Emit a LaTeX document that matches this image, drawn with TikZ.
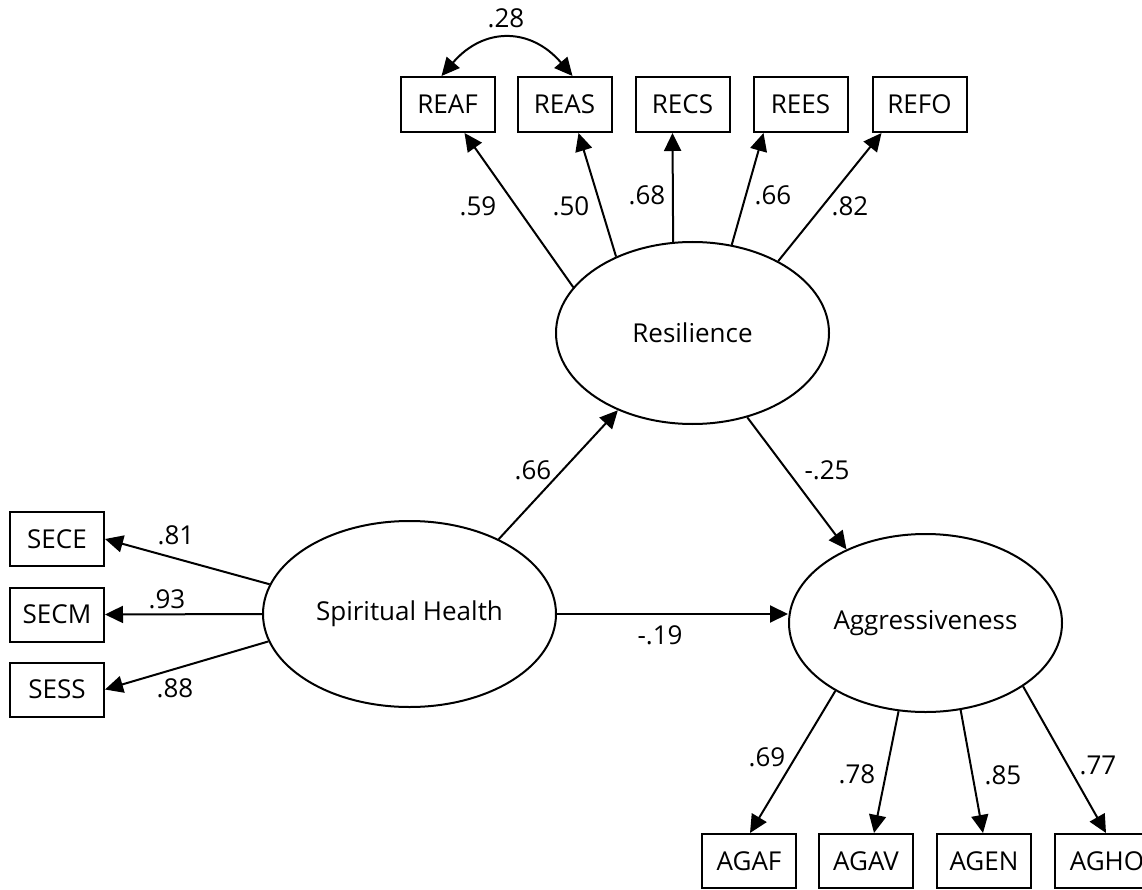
\documentclass[tikz,border=0pt]{standalone}
\usepackage{fontspec}
\setmainfont{Open Sans}
\usetikzlibrary{arrows.meta,shapes.geometric}
\begin{document}
\begin{tikzpicture}[x=1pt,y=-1pt,
  every node/.style={font=\fontsize{26}{30}\selectfont},
  obs/.style={draw, line width=2pt, minimum width=94pt, minimum height=55pt, inner sep=0pt},
  lat/.style={draw, ellipse, line width=2pt, inner sep=0pt},
  pth/.style={line width=2pt, -{Triangle[length=18pt,width=17pt]}},
  cov/.style={line width=2pt, {Triangle[length=18pt,width=17pt]}-{Triangle[length=18pt,width=17pt]}},
  lbl/.style={inner sep=0pt}]
\useasboundingbox (0,0) rectangle (1142,890);

% latent variables
\node[lat, minimum width=273pt, minimum height=182pt] (res) at (692.5,333) {Resilience};
\node[lat, minimum width=293pt, minimum height=186pt] (sp) at (409.5,614) {Spiritual Health};
\node[lat, minimum width=273pt, minimum height=178pt] (ag) at (925.5,623) {Aggressiveness};

% observed: resilience
\node[obs] (reaf) at (447.5,104.5) {REAF};
\node[obs] (reas) at (564.5,104.5) {REAS};
\node[obs] (recs) at (682.5,104.5) {RECS};
\node[obs] (rees) at (800.5,104.5) {REES};
\node[obs] (refo) at (919.5,104.5) {REFO};

% observed: spiritual health
\node[obs, minimum height=54pt] (sece) at (57,539) {SECE};
\node[obs, minimum height=54pt] (secm) at (57,614.5) {SECM};
\node[obs, minimum height=54pt] (sess) at (57,689.5) {SESS};

% observed: aggressiveness
\node[obs, minimum height=54pt] (agaf) at (749,861) {AGAF};
\node[obs, minimum height=54pt] (agav) at (866,861) {AGAV};
\node[obs, minimum height=54pt] (agen) at (984,861) {AGEN};
\node[obs, minimum height=54pt, minimum width=104pt] (agho) at (1107,861) {AGHO};

% loadings resilience
\draw[pth] (res.159.4) -- ([xshift=17pt]reaf.south);
\draw[pth] (res.135.2) -- ([xshift=14pt]reas.south);
\draw[pth] (res.102.1) -- ([xshift=-10pt]recs.south);
\draw[pth] (res.66.8) -- ([xshift=-37pt]rees.south);
\draw[pth] (res.40.4) -- ([xshift=-38pt]refo.south);

% covariance
\draw[cov] ([xshift=-6pt]reaf.north) .. controls +(42,-49) and +(-42,-49) .. ([xshift=8pt]reas.north);

% loadings spiritual health
\draw[pth] (sp.168.8) -- (sece.east);
\draw[pth] (sp.west) -- (secm.east);
\draw[pth] (sp.191.6) -- (sess.east);

% loadings aggressiveness
\draw[pth] (ag.217) -- ([xshift=1pt]agaf.north);
\draw[pth] (ag.253.8) -- ([xshift=8pt]agav.north);
\draw[pth] (ag.292.2) -- ([xshift=-1pt]agen.north);
\draw[pth] (ag.327.7) -- ([xshift=-1pt]agho.north);

% structural paths
\draw[pth] (sp.40) -- (res.226);
\draw[pth] (res.303.5) -- (ag.137.8);
\draw[pth] (sp.east) -- (sp.east -| ag.west);

% labels
\node[lbl] (l28) at (506,18) {.28};
\node[lbl] (l59) at (478,206) {.59};
\node[lbl] (l50) at (571,206) {.50};
\node[lbl] (l68) at (647,195) {.68};
\node[lbl] (l66a) at (773,195) {.66};
\node[lbl] (l82) at (850,206) {.82};
\node[lbl] (l66b) at (533,470) {.66};
\node[lbl] (l25) at (827,470) {-.25};
\node[lbl] (l19) at (660,635) {-.19};
\node[lbl] (l81) at (176,535) {.81};
\node[lbl] (l93) at (167,599) {.93};
\node[lbl] (l88) at (175,688) {.88};
\node[lbl] (l69) at (767,757) {.69};
\node[lbl] (l78) at (857,774) {.78};
\node[lbl] (l85) at (1003,775) {.85};
\node[lbl] (l77) at (1098,765) {.77};
\end{tikzpicture}
\end{document}
